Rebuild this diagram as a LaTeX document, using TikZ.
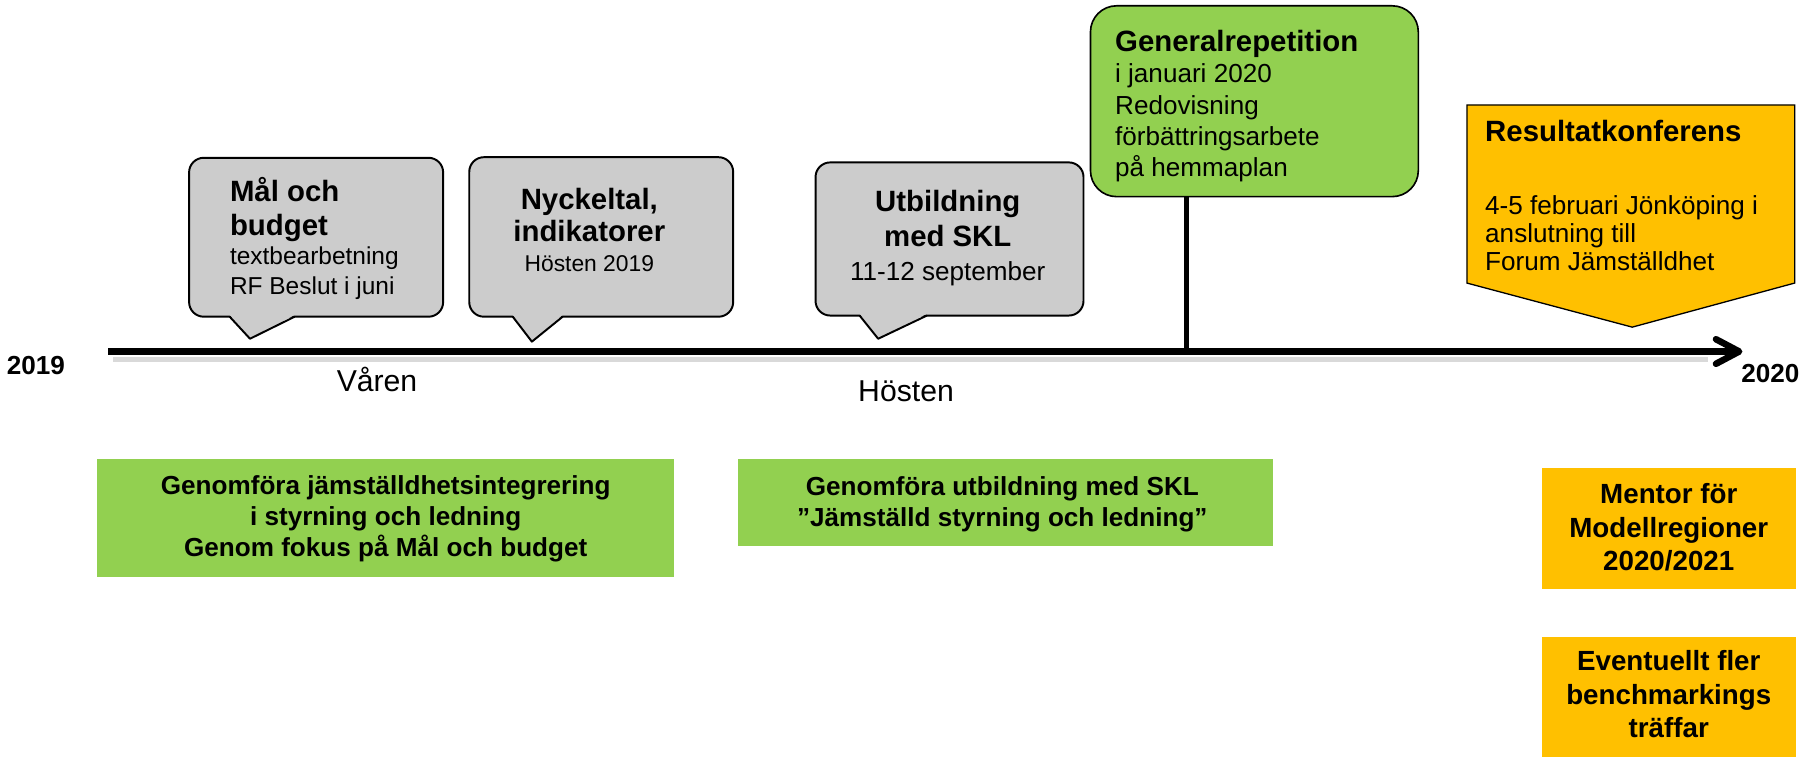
\documentclass[tikz,border=0pt]{standalone}
\usepackage{fontspec}
\setmainfont{Liberation Sans}
\usetikzlibrary{
    calc,
    arrows.meta,
    positioning
}
\definecolor{bubblegray}{RGB}{204,204,204}
\definecolor{officegreen}{RGB}{146,208,80}
\definecolor{officegold}{RGB}{255,192,0}
\newcommand{\bubhead}{\fontsize{18}{21}\selectfont\bfseries}
\tikzset{
    every node/.style={inner sep=0pt},
    bubble/.style={draw=black, line width=1.2pt, fill=bubblegray, rounded corners=9pt},
    bubbletip/.style={draw=black, line width=1.2pt, line join=round},
    genbox/.style={draw=black, line width=1pt, fill=officegreen, rounded corners=16pt},
    goldcallout/.style={draw=black, line width=0.8pt, fill=officegold},
    timeline/.style={line width=4pt, -{Straight Barb[length=5mm, width=5.3mm, round]}},
    yearlabel/.style={anchor=base, font=\fontsize{16}{19}\selectfont\bfseries},
    seasonlabel/.style={anchor=base, font=\fontsize{18.5}{22}\selectfont},
    plan/.style={anchor=base, align=center, font=\fontsize{16}{19}\selectfont\bfseries},
    mentor/.style={anchor=base, align=center, font=\fontsize{17}{20.5}\selectfont\bfseries}
}

\begin{document}
\begin{tikzpicture}[x=0.025cm, y=-0.025cm]
\useasboundingbox (0,0) rectangle (1568,652);

\coordinate (t2019) at (93.5,303);
\coordinate (t2020) at (1502,303);
\coordinate (stemtop) at (1022.5,169.5);
\coordinate (stembot) at (1022.5,303);
\draw[line width=3pt, black!15] ($(t2019)+(4,7)$) -- ($(t2020)+(-30,7)$);
\draw[line width=3pt] (stemtop) -- (stembot);
\draw[timeline] (t2019) -- (t2020);
\node[yearlabel] (y2019) at (31,322.4) {2019};
\node[yearlabel] (y2020) at (1526,330) {2020};
\node[seasonlabel] (varen) at (325,337.6) {Våren};
\node[seasonlabel] (hosten) at (781,346) {Hösten};

\draw[bubble] (163,136) rectangle (382,273);
\fill[bubblegray] (198,271.5) -- (215.5,292) -- (254,271.5) -- cycle;
\draw[bubbletip] (198,273) -- (215.5,292) -- (254,273);
\node[anchor=base west, align=left, font=\fontsize{15}{18}\selectfont] (malbudget) at (198,253.5)
    {\bubhead Mål och\\[3pt] \bubhead budget\\ textbearbetning\\ RF Beslut i juni};

\draw[bubble] (404.5,135.5) rectangle (632,273);
\fill[bubblegray] (442,271.5) -- (458.5,294.5) -- (485,271.5) -- cycle;
\draw[bubbletip] (442,273) -- (458.5,294.5) -- (485,273);
\node[anchor=base, align=center, font=\fontsize{14}{18.5}\selectfont] (nyckeltal) at (508,234)
    {\bubhead Nyckeltal,\\[0.7pt] \bubhead indikatorer\\ Hösten 2019};

\draw[bubble] (703,140) rectangle (934,272);
\fill[bubblegray] (741,270.5) -- (757,292) -- (799,270.5) -- cycle;
\draw[bubbletip] (741,272) -- (757,292) -- (799,272);
\node[anchor=base, align=center, font=\fontsize{16}{20.5}\selectfont] (utbildning) at (817,241.4)
    {\bubhead Utbildning\\[0.9pt] \bubhead med SKL\\ 11-12 september};

\draw[genbox] (940,5) rectangle (1222.6,169.5);
\node[anchor=base west, align=left, font=\fontsize{16}{19.2}\selectfont] (genrep) at (961,152.3)
    {\bubhead Generalrepetition\\ i januari 2020\\ Redovisning\\ förbättringsarbete\\ på hemmaplan};

\draw[goldcallout] (1264.5,90.5) -- (1547,90.5) -- (1547,244) -- (1407,282) -- (1264.5,244) -- cycle;
\node[anchor=base west, align=left, font=\fontsize{16}{17.1}\selectfont] (resultat) at (1280,233)
    {\bubhead Resultatkonferens\\[27.7pt] 4-5 februari Jönköping i\\ anslutning till\\ Forum Jämställdhet};

\fill[officegreen] (84,396) rectangle (581,497);
\node[plan] (styrning) at (332.5,480) {Genomföra jämställdhetsintegrering\\ i styrning och ledning\\ Genom fokus på Mål och budget};
\fill[officegreen] (636,396) rectangle (1097,471);
\node[plan] (sklkurs) at (864,454) {Genomföra utbildning med SKL\\ ”Jämställd styrning och ledning”};
\fill[officegold] (1329,403) rectangle (1548,508);
\node[mentor] (mentor) at (1438.5,492) {Mentor för\\ Modellregioner\\ 2020/2021};
\fill[officegold] (1329,549) rectangle (1548,660);
\node[mentor] (benchmark) at (1438.5,636) {Eventuellt fler\\ benchmarkings\\ träffar};
\end{tikzpicture}
\end{document}
